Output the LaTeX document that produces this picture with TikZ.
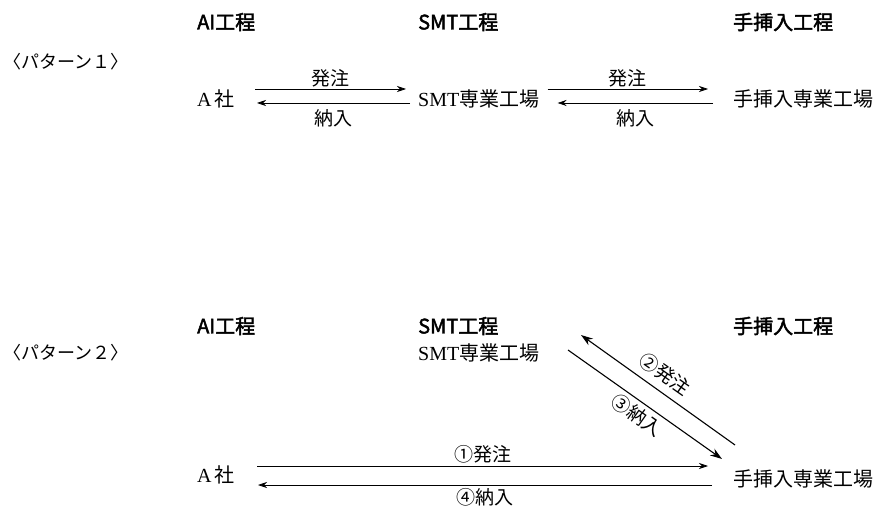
\documentclass[tikz,border=0pt]{standalone}
\usepackage{fontspec}
\setmainfont{Liberation Serif}
\newfontfamily\cjk{Noto Sans CJK JP}
\newfontfamily\cjkb{Noto Sans CJK JP}[AutoFakeBold=2.2]
\usetikzlibrary{arrows.meta,calc}
\tikzset{
  head/.style={font=\cjkb\fontsize{20}{22}\selectfont\bfseries, inner sep=0pt, anchor=west},
  lbl/.style={font=\fontsize{20}{22}\selectfont, inner sep=0pt, anchor=west},
  pat/.style={font=\cjk\fontsize{18}{20}\selectfont, inner sep=0pt, anchor=west},
  elbl/.style={font=\cjk\fontsize{19}{21}\selectfont, inner sep=0pt},
  harr/.style={line width=0.7pt, -{Stealth[length=9pt,width=6pt]}},
  darr/.style={line width=1.1pt, -{Stealth[length=12pt,width=8pt]}}
}
\begin{document}
\begin{tikzpicture}[x=1pt,y=-1pt]
\useasboundingbox (0,0) rectangle (879,508);
% ---------- pattern 1 ----------
\node[head] (hA1) at (197,22) {AI工程};
\node[head] (hS1) at (418,22) {SMT工程};
\node[head] (hH1) at (733,22) {手挿入工程};
\node[pat]  (p1)  at (3,62) {〈パターン１〉};
\node[lbl] (a1) at (197,99) {A\,{\cjk 社}};
\node[lbl] (s1) at (418,99) {SMT{\cjk 専業工場}};
\node[lbl] (h1) at (733,99) {{\cjk 手挿入専業工場}};
\draw[harr] ([shift={(58,-10)}]a1.west) -- ([shift={(-12,-10)}]s1.west) node[elbl, midway, above=2pt] (o1) {発注};
\draw[harr] ([shift={(-8,4)}]s1.west) -- ([shift={(60,4)}]a1.west) node[elbl, midway, below=6pt] (n1) {納入};
\draw[harr] ([shift={(8,-10)}]s1.east) -- ([shift={(-25,-10)}]h1.west) node[elbl, midway, above=2pt] (o2) {発注};
\draw[harr] ([shift={(-20,4)}]h1.west) -- ([shift={(18,4)}]s1.east) node[elbl, midway, below=6pt] (n2) {納入};
% ---------- pattern 2 ----------
\node[head] (hA2) at (197,326) {AI工程};
\node[head] (hS2) at (418,326) {SMT工程};
\node[head] (hH2) at (733,326) {手挿入工程};
\node[pat]  (p2)  at (3,353) {〈パターン２〉};
\node[lbl] (s2) at (418,353) {SMT{\cjk 専業工場}};
\node[lbl] (a2) at (197,475) {A\,{\cjk 社}};
\node[lbl] (h2) at (733,479) {{\cjk 手挿入専業工場}};
\draw[darr] ([shift={(2,-34)}]h2.west) -- ([shift={(163,-18)}]s2.west);
\draw[darr] ([shift={(150,-3)}]s2.west) -- ([shift={(-11,-20)}]h2.west);
\node[elbl, rotate=-35] (l2) at (665,374) {②発注};
\node[elbl, rotate=-35] (l3) at (637,415) {③納入};
\draw[harr] ([shift={(60,-9)}]a2.west) -- ([shift={(-25,-13)}]h2.west) node[elbl, pos=0.5, above=3pt] (o3) {①発注};
\draw[harr] ([shift={(-21,6)}]h2.west) -- ([shift={(61,10)}]a2.west) node[elbl, pos=0.5, below=3pt] (n3) {④納入};
\end{tikzpicture}
\end{document}
